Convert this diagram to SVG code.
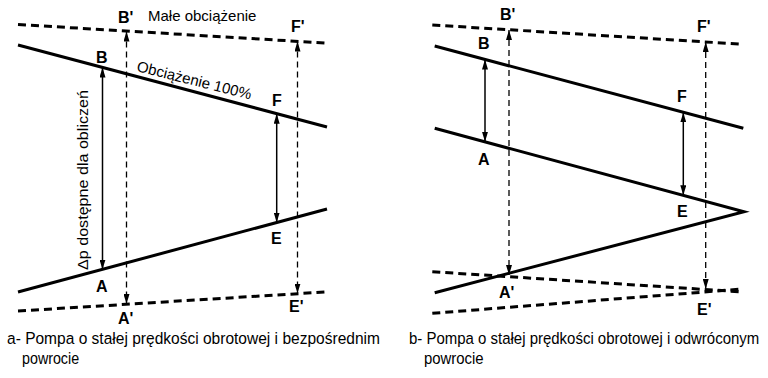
<svg xmlns="http://www.w3.org/2000/svg" width="768" height="378" viewBox="0 0 768 378">
<style>
.main{fill:none;stroke:#000;stroke-width:3}
.dmain{fill:none;stroke:#000;stroke-width:3;stroke-dasharray:8 5}
.arr{fill:none;stroke:#000;stroke-width:1.5}
.darr{fill:none;stroke:#000;stroke-width:1.3;stroke-dasharray:6 4}
.lbl{font-family:"Liberation Sans",Arial,sans-serif;font-weight:bold;font-size:16px;fill:#000}
.txt{font-family:"Liberation Sans",Arial,sans-serif;font-size:15px;fill:#000}
.cap{font-family:"Liberation Sans",Arial,sans-serif;font-size:17px;fill:#000}
</style>
<defs>
<marker id="ah" viewBox="0 0 10 6" refX="10" refY="3" markerWidth="10" markerHeight="6" markerUnits="userSpaceOnUse" orient="auto-start-reverse">
<path d="M0,0 L10,3 L0,6 z" fill="#000"/>
</marker>
</defs>
<rect width="768" height="378" fill="#fff"/>
<g id="panel-a">
<g id="lines-a">
<line class="dmain" x1="18" y1="24.5" x2="325" y2="43"/>
<line class="main" x1="18" y1="45" x2="327" y2="127"/>
<line class="main" x1="18" y1="292" x2="327" y2="209"/>
<line class="dmain" x1="18" y1="311" x2="325" y2="292"/>
</g>
<g id="connectors-a">
<line class="arr" x1="102.5" y1="67.5" x2="102.5" y2="269.5" marker-start="url(#ah)" marker-end="url(#ah)"/>
<line class="arr" x1="276.7" y1="113.7" x2="276.7" y2="222.5" marker-start="url(#ah)" marker-end="url(#ah)"/>
<line class="darr" x1="126.5" y1="31.5" x2="126.5" y2="304" marker-start="url(#ah)" marker-end="url(#ah)"/>
<line class="darr" x1="297.5" y1="41.5" x2="297.5" y2="293.5" marker-start="url(#ah)" marker-end="url(#ah)"/>
</g>
<g id="labels-a">
<text class="lbl" x="118" y="23">B'</text>
<text class="txt" x="148" y="21">Małe obciążenie</text>
<text class="lbl" x="291" y="32">F'</text>
<text class="lbl" x="96" y="63">B</text>
<text class="txt" transform="translate(136,71) rotate(14)">Obciążenie 100%</text>
<text class="lbl" x="272" y="106">F</text>
<text class="txt" transform="translate(87.5,270) rotate(-90)" textLength="180" lengthAdjust="spacingAndGlyphs">Δp dostępne dla obliczeń</text>
<text class="lbl" x="271" y="244">E</text>
<text class="lbl" x="96" y="292">A</text>
<text class="lbl" x="289" y="312">E'</text>
<text class="lbl" x="118" y="324">A'</text>
<text class="cap" transform="translate(7,344) scale(0.84,1)" textLength="444" lengthAdjust="spacingAndGlyphs">a- Pompa o stałej prędkości obrotowej i bezpośrednim</text>
<text class="cap" transform="translate(22,364) scale(0.84,1)" textLength="68" lengthAdjust="spacingAndGlyphs">powrocie</text>
</g>
</g>
<g id="panel-b">
<g id="lines-b">
<line class="dmain" x1="432.3" y1="25" x2="739" y2="44"/>
<line class="main" x1="434.7" y1="46" x2="743.3" y2="128.3"/>
<polyline class="main" points="434.7,128.3 744,211.7 434.7,292.7"/>
<line class="dmain" x1="432.3" y1="271.7" x2="739" y2="291.7"/>
<line class="dmain" x1="432.3" y1="313.3" x2="739" y2="289.3"/>
</g>
<g id="connectors-b">
<line class="arr" x1="485" y1="59.5" x2="485" y2="141.8" marker-start="url(#ah)" marker-end="url(#ah)"/>
<line class="arr" x1="683.3" y1="112.4" x2="683.3" y2="195.3" marker-start="url(#ah)" marker-end="url(#ah)"/>
<line class="darr" x1="509" y1="30" x2="509" y2="275" marker-start="url(#ah)" marker-end="url(#ah)"/>
<line class="darr" x1="705.7" y1="42" x2="705.7" y2="289" marker-start="url(#ah)" marker-end="url(#ah)"/>
</g>
<g id="labels-b">
<text class="lbl" x="500" y="20">B'</text>
<text class="lbl" x="697" y="32">F'</text>
<text class="lbl" x="478" y="49">B</text>
<text class="lbl" x="677" y="102">F</text>
<text class="lbl" x="478" y="165">A</text>
<text class="lbl" x="677" y="217">E</text>
<text class="lbl" x="499" y="298">A'</text>
<text class="lbl" x="697" y="315">E'</text>
<text class="cap" transform="translate(409,344) scale(0.84,1)" textLength="417" lengthAdjust="spacingAndGlyphs">b- Pompa o stałej prędkości obrotowej i odwróconym</text>
<text class="cap" transform="translate(424,364) scale(0.84,1)" textLength="71" lengthAdjust="spacingAndGlyphs">powrocie</text>
</g>
</g>
</svg>
